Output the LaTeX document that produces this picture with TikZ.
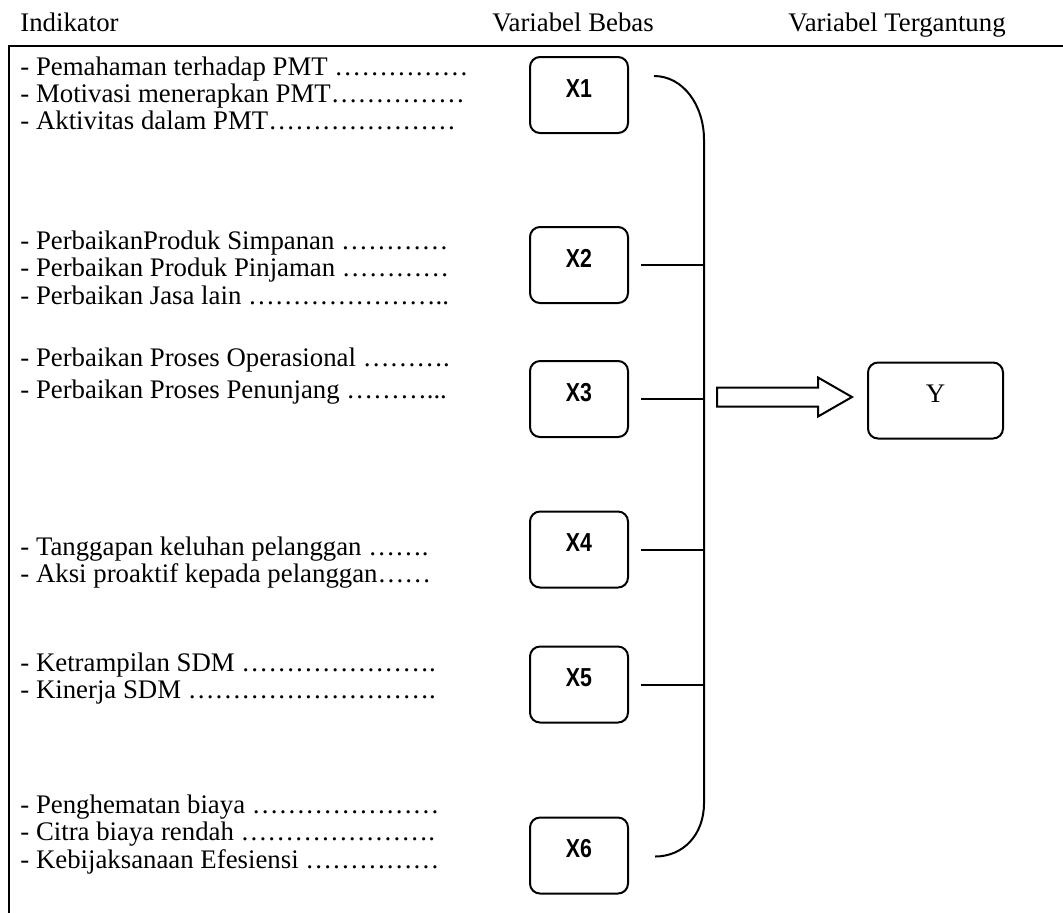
\documentclass[tikz,border=0pt]{standalone}
\usepackage{fontspec}
\setmainfont{Liberation Serif}
\newfontfamily\boxfont[FakeStretch=0.82]{Liberation Sans}
\usetikzlibrary{calc}

\tikzset{
  varbox/.style={draw, line width=1pt, rounded corners=5pt, minimum width=49pt,
    inner sep=0pt, text height=20pt, text depth=18pt,
    font=\boxfont\bfseries\fontsize{13}{14}\selectfont},
  ybox/.style={varbox, minimum width=67.5pt, font=\fontsize{13.4}{14}\selectfont},
  ind/.style={anchor=base west, inner sep=0pt, font=\fontsize{13.4}{14}\selectfont},
  head/.style={anchor=base, inner sep=0pt, font=\fontsize{13.4}{14}\selectfont},
  link/.style={line width=1pt},
}

\begin{document}
\begin{tikzpicture}[x=0.5pt,y=-0.5pt]
  \useasboundingbox (0,0) rectangle (1063,912);
  % headings and frame
  \node[head, anchor=base west] (hind) at (20,31) {Indikator};
  \node[head] (hbebas) at (573,31) {Variabel Bebas};
  \node[head] (htergantung) at (897,31) {Variabel Tergantung};
  \draw[line width=1.3pt] (1070,46) -- (9,46) -- (9,920);

  % variables
  \node[varbox] (x1) at (579,95) {X1};
  \node[varbox] (x2) at (579,265) {X2};
  \node[varbox] (x3) at (579,399) {X3};
  \node[varbox] (x4) at (579,549.5) {X4};
  \node[varbox] (x5) at (579,684.5) {X5};
  \node[varbox] (x6) at (579,855.5) {X6};
  \node[ybox] (y) at (935.5,400.5) {Y};

  % indicators
  \foreach \t [count=\i] in {{- Pemahaman terhadap PMT ……………},
      {- Motivasi menerapkan PMT……………}, {- Aktivitas dalam PMT…………………}}
    \node[ind] (pmt-\i) at (20,{75+27*(\i-1)}) {\t};
  \foreach \t [count=\i] in {{- PerbaikanProduk Simpanan …………},
      {- Perbaikan Produk Pinjaman …………}, {- Perbaikan Jasa lain …………………..}}
    \node[ind] (prod-\i) at (20,{249+27.5*(\i-1)}) {\t};
  \node[ind] (pros-1) at (20,366) {- Perbaikan Proses Operasional ……….};
  \node[ind] (pros-2) at (20,398) {- Perbaikan Proses Penunjang ………...};
  \foreach \t [count=\i] in {{- Tanggapan keluhan pelanggan …….},
      {- Aksi proaktif kepada pelanggan……}}
    \node[ind] (plg-\i) at (20,{555+27.5*(\i-1)}) {\t};
  \foreach \t [count=\i] in {{- Ketrampilan SDM ………………….},
      {- Kinerja SDM ……………………….}}
    \node[ind] (sdm-\i) at (20,{671+27.5*(\i-1)}) {\t};
  \foreach \t [count=\i] in {{- Penghematan biaya …………………},
      {- Citra biaya rendah ………………….},
      {- Kebijaksanaan Efesiensi ……………}}
    \node[ind] (biaya-\i) at (20,{813+27.5*(\i-1)}) {\t};

  % bracket joining the variables
  \coordinate (bustop) at (704,140);
  \coordinate (busbot) at (704,803);
  \draw[link] ($(x1.east)+(25,-19)$) .. controls +(29,0) and +(0,-35) .. (bustop)
    -- (busbot) .. controls +(0,32) and +(28,0) .. ($(x6.east)+(26,1)$);
  \foreach \n in {x2,x3,x4,x5}
    \draw[link] ([xshift=6pt]\n.east) -- (\n.east -| bustop);

  % block arrow to Y
  \coordinate (tail) at ($(x3.east -| bustop)+(13,-2)$);
  \draw[link] (tail) ++(0,-9.5) -- ++(101,0) -- ++(0,-10) -- ++(34,19.5)
    -- ++(-34,19.5) -- ++(0,-10) -- ++(-101,0) -- cycle;
\end{tikzpicture}
\end{document}
